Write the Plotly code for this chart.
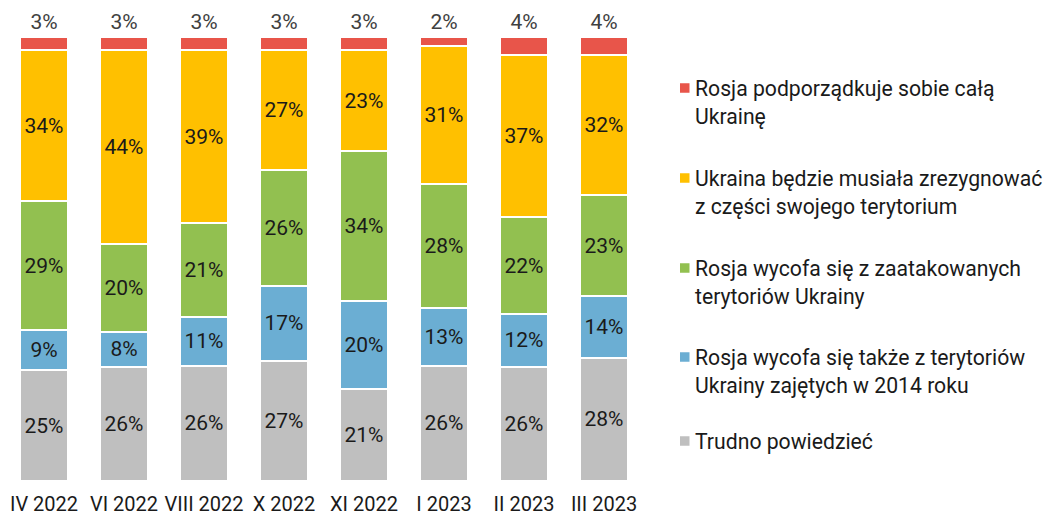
import plotly.graph_objects as go

categories = ["IV 2022", "VI 2022", "VIII 2022", "X 2022", "XI 2022", "I 2023", "II 2023", "III 2023"]

trudno = [25, 26, 26, 27, 21, 26, 26, 28]
wycofa_2014 = [9, 8, 11, 17, 20, 13, 12, 14]
wycofa_zaatak = [29, 20, 21, 26, 34, 28, 22, 23]
ukraina_rezygnuje = [34, 44, 39, 27, 23, 31, 37, 32]
rosja_cala = [3, 3, 3, 3, 3, 2, 4, 4]

series = [
    ("Trudno powiedzieć", ["Trudno powiedzieć"], trudno, "#BFBFBF"),
    ("Rosja wycofa się także z terytoriów Ukrainy zajętych w 2014 roku",
     ["Rosja wycofa się także z terytoriów", "Ukrainy zajętych w 2014 roku"], wycofa_2014, "#6BAED3"),
    ("Rosja wycofa się z zaatakowanych terytoriów Ukrainy",
     ["Rosja wycofa się z zaatakowanych", "terytoriów Ukrainy"], wycofa_zaatak, "#92C050"),
    ("Ukraina będzie musiała zrezygnować z części swojego terytorium",
     ["Ukraina będzie musiała zrezygnować", "z części swojego terytorium"], ukraina_rezygnuje, "#FFC000"),
    ("Rosja podporządkuje sobie całą Ukrainę",
     ["Rosja podporządkuje sobie całą", "Ukrainę"], rosja_cala, "#E8554A"),
]

FONT = "Roboto"
W, H = 1047, 516
ML, MR, MT, MB = 4, W - 644, 37, 35
PW, PH = W - ML - MR, H - MT - MB

def px_x(x):
    return (x - ML) / PW

def px_y(y):
    return 1 - (y - MT) / PH

fig = go.Figure()
for i, (name, lines, vals, color) in enumerate(series):
    top = i == len(series) - 1
    fig.add_trace(go.Bar(
        x=categories, y=vals, name=name,
        marker=dict(color=color, line=dict(color="white", width=2)),
        text=[f"{v}%" for v in vals], texttemplate="%{text}",
        textposition="outside" if top else "inside",
        insidetextanchor="middle", textangle=0, constraintext="none",
        insidetextfont=dict(family=FONT, size=21, color="#1A1A1A"),
        outsidetextfont=dict(family=FONT, size=21, color="#404040"),
        cliponaxis=False, showlegend=False, hoverinfo="skip",
    ))

# Legend drawn as annotations (red at top, gray at bottom)
legend_y = {  # pixel y of first-line centre for each item
    "#E8554A": 88, "#FFC000": 178, "#92C050": 268, "#6BAED3": 357, "#BFBFBF": 441,
}
line_pitch = 28.5
for name, lines, vals, color in series:
    y0 = legend_y[color]
    fig.add_shape(type="rect", xref="paper", yref="paper",
                  x0=px_x(680), x1=px_x(689.5),
                  y0=px_y(y0 + 4.75), y1=px_y(y0 - 4.75),
                  fillcolor=color, line=dict(width=0))
    for k, ln in enumerate(lines):
        fig.add_annotation(xref="paper", yref="paper", x=px_x(693),
                           y=px_y(y0 + k * line_pitch),
                           text=ln, showarrow=False, xanchor="left", yanchor="middle",
                           font=dict(family=FONT, size=21.2, color="#1A1A1A"))

fig.update_layout(
    barmode="stack", barnorm="percent", bargap=0.39,
    width=W, height=H, autosize=False,
    margin=dict(l=ML, r=MR, t=MT, b=MB, autoexpand=False),
    paper_bgcolor="white", plot_bgcolor="white",
    font=dict(family=FONT, size=18, color="#1A1A1A"),
    xaxis=dict(showgrid=False, zeroline=False, showline=False, ticks="",
               automargin=False, ticklabelstandoff=9,
               tickfont=dict(family=FONT, size=20, color="#1A1A1A")),
    yaxis=dict(range=[0, 100], visible=False, showgrid=False, zeroline=False,
               automargin=False),
    showlegend=False,
    uniformtext=dict(mode=False),
)

fig.write_html("out.html")
